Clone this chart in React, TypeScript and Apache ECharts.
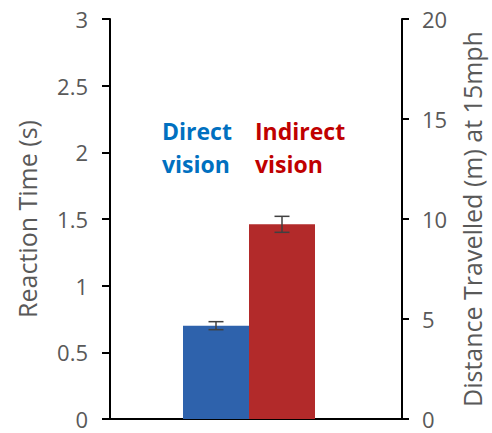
import React, { useEffect, useRef } from "react";
import * as echarts from "echarts";

const categories = [""];
const seriesNames = ["Direct vision", "Indirect vision"];
const reactionTimes = [0.7, 1.46];
const errors = [0.03, 0.06];
const leftTicks = { min: 0, max: 3, interval: 0.5 };
const rightTicks = { min: 0, max: 20, interval: 5 };

const BAR_W = 66;
const FONT = "'Open Sans', 'Noto Sans', sans-serif";

export default function App() {
  const ref = useRef<HTMLDivElement>(null);
  useEffect(() => {
    if (!ref.current) return;
    const chart = echarts.init(ref.current, undefined, { renderer: "svg" });
    const gridTop = 19;
    const gridBottom = 14;
    const option: any = {
      animation: false,
      backgroundColor: "#ffffff",
      textStyle: { fontFamily: FONT },
      grid: [
        { left: 110, right: 90, top: gridTop, bottom: gridBottom },
        { left: 100, right: 94, top: gridTop, bottom: gridBottom },
      ],
      xAxis: [
        {
          type: "category",
          gridIndex: 0,
          data: categories,
          axisLine: { show: true, lineStyle: { color: "#000", width: 2 } },
          axisTick: { show: false },
          axisLabel: { show: false },
        },
        {
          type: "category",
          gridIndex: 1,
          data: categories,
          show: false,
        },
      ],
      yAxis: [
        {
          type: "value",
          gridIndex: 0,
          position: "left",
          min: leftTicks.min,
          max: leftTicks.max,
          interval: leftTicks.interval,
          name: "Reaction Time (s)",
          nameLocation: "middle",
          nameRotate: 90,
          nameGap: 71,
          nameTextStyle: { color: "#595959", fontSize: 25, fontFamily: FONT },
          axisLine: { show: true, lineStyle: { color: "#000", width: 2 } },
          axisTick: { show: true, inside: false, length: 8, lineStyle: { color: "#000", width: 2 } },
          axisLabel: { color: "#595959", fontSize: 22, lineHeight: 20, margin: 22, fontFamily: FONT },
          splitLine: { show: false },
        },
        {
          type: "value",
          gridIndex: 0,
          position: "right",
          min: rightTicks.min,
          max: rightTicks.max,
          interval: rightTicks.interval,
          name: "Distance Travelled (m) at 15mph",
          nameLocation: "middle",
          nameRotate: 90,
          nameGap: 57,
          nameTextStyle: { color: "#595959", fontSize: 25, fontFamily: FONT },
          axisLine: { show: true, lineStyle: { color: "#000", width: 2 } },
          axisTick: { show: true, inside: false, length: 7, lineStyle: { color: "#000", width: 2 } },
          axisLabel: { color: "#595959", fontSize: 22, lineHeight: 20, margin: 20, fontFamily: FONT },
          splitLine: { show: false },
        },
        {
          type: "value",
          gridIndex: 1,
          min: leftTicks.min,
          max: leftTicks.max,
          show: false,
          splitLine: { show: false },
        },
      ],
      series: [
        {
          name: seriesNames[0],
          type: "bar",
          xAxisIndex: 1,
          yAxisIndex: 2,
          data: [reactionTimes[0]],
          barWidth: BAR_W,
          barGap: "0%",
          itemStyle: { color: "#2e62ac" },
        },
        {
          name: seriesNames[1],
          type: "bar",
          xAxisIndex: 1,
          yAxisIndex: 2,
          data: [reactionTimes[1]],
          barWidth: BAR_W,
          barGap: "0%",
          itemStyle: { color: "#b22a2a" },
        },
        {
          type: "custom",
          xAxisIndex: 1,
          yAxisIndex: 2,
          data: reactionTimes.map((v, i) => [0, v, errors[i]]),
          encode: { x: 0, y: 1 },
          z: 10,
          renderItem: (params: any, api: any) => {
            const v = api.value(1);
            const e = api.value(2);
            const offset = (params.dataIndex - 0.5) * BAR_W;
            const hi = api.coord([api.value(0), v + e]);
            const lo = api.coord([api.value(0), v - e]);
            const x = hi[0] + offset;
            const cap = 7.5;
            const style = { stroke: "#404040", lineWidth: 1.5, fill: "none" };
            return {
              type: "group",
              children: [
                { type: "line", shape: { x1: x, y1: hi[1], x2: x, y2: lo[1] }, style },
                { type: "line", shape: { x1: x - cap, y1: hi[1], x2: x + cap, y2: hi[1] }, style },
                { type: "line", shape: { x1: x - cap, y1: lo[1], x2: x + cap, y2: lo[1] }, style },
              ],
            };
          },
        },
      ],
      graphic: [
        {
          type: "text",
          left: 162,
          top: 114,
          style: {
            text: "Direct\nvision",
            fill: "#0070c0",
            font: `bold 23px ${FONT}`,
            lineHeight: 33,
          },
        },
        {
          type: "text",
          left: 255,
          top: 114,
          style: {
            text: "Indirect\nvision",
            fill: "#c00000",
            font: `bold 23px ${FONT}`,
            lineHeight: 33,
          },
        },
      ],
    };
    chart.setOption(option);
    return () => chart.dispose();
  }, []);
  return (
    <div
      ref={ref}
      style={{ position: "fixed", left: 0, top: 0, width: 492, height: 433 }}
    />
  );
}
